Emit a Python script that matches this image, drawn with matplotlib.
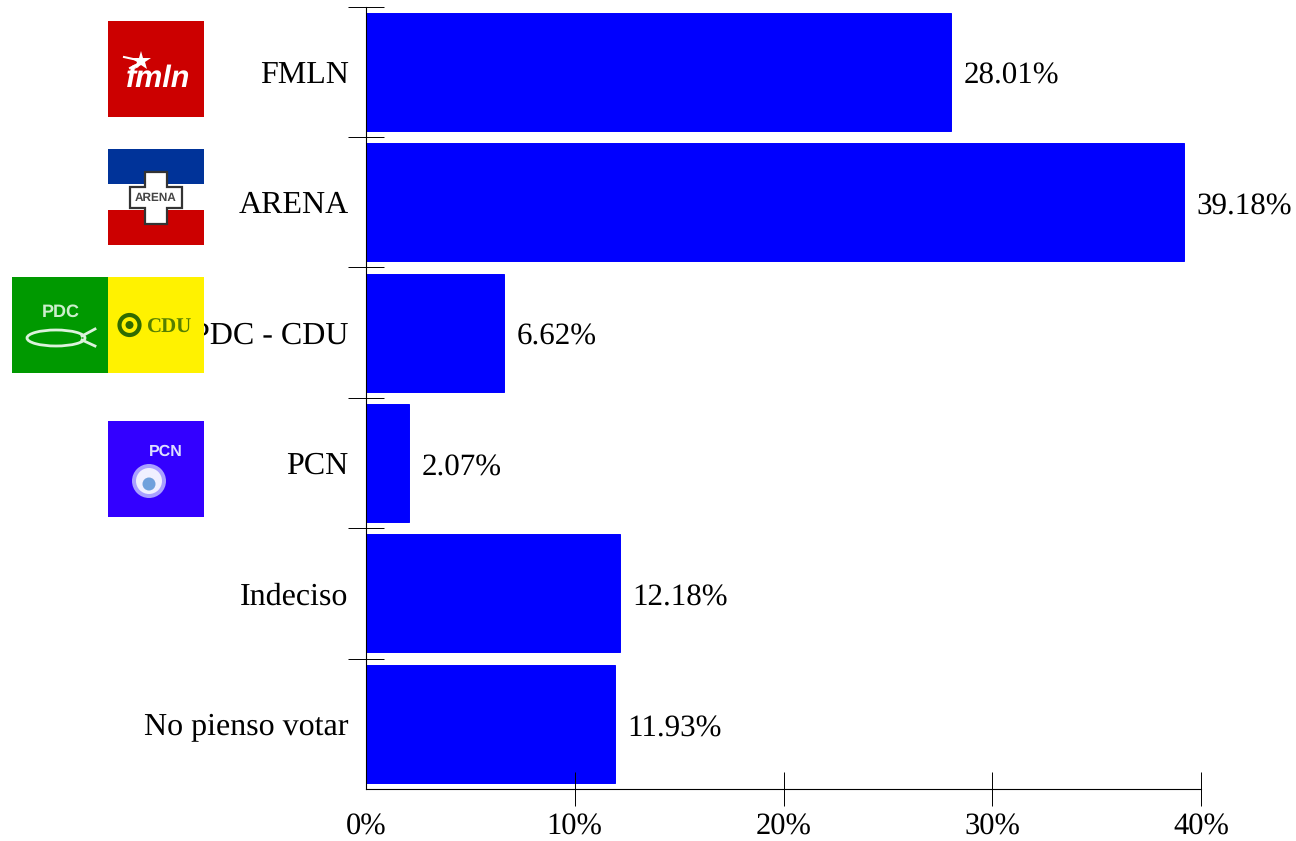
import numpy as np
import matplotlib.pyplot as plt
from matplotlib.patches import Rectangle, Circle, Ellipse, Polygon

# Poll results
parties = ['FMLN', 'ARENA', 'PDC - CDU', 'PCN', 'Indeciso', 'No pienso votar']
values = [28.01, 39.18, 6.62, 2.07, 12.18, 11.93]
value_labels = ['28.01%', '39.18%', '6.62%', '2.07%', '12.18%', '11.93%']
x_ticks = [0, 10, 20, 30, 40]
x_tick_labels = ['0%', '10%', '20%', '30%', '40%']

plt.rcParams['font.family'] = ['Liberation Serif', 'DejaVu Serif']
plt.rcParams['text.hinting'] = 'no_hinting'
W, H = 1296, 841

fig = plt.figure(figsize=(W / 100, H / 100), dpi=100, facecolor='white')
ax = fig.add_axes([366.0 / W, 1 - 789.0 / H, 835.0 / W, 782.5 / H])

y = np.arange(len(parties)) + 0.5
ax.barh(y, values, height=0.905, color='#0000FF', edgecolor='#0000FF', linewidth=0.7)
for yi, v, lab in zip(y, values, value_labels):
    ax.annotate(lab, (v, yi), xytext=(9, -3.5), textcoords='offset points',
                va='center', ha='left', fontsize=22.3, color='black')

ax.set_xlim(0, 40)
ax.set_ylim(len(parties), 0)
ax.spines['top'].set_visible(False)
ax.spines['right'].set_visible(False)
ax.spines['left'].set_linewidth(0.8)
ax.spines['bottom'].set_linewidth(0.8)

# major ticks cross the axis, labels sit on minor ticks at the bar centres
ax.set_yticks(np.arange(len(parties)))
ax.set_yticklabels([])
ax.set_yticks(y, minor=True)
ax.set_yticklabels(parties, minor=True, fontsize=23)
ax.tick_params(axis='y', which='major', direction='inout', length=25.5, width=0.7)
ax.tick_params(axis='y', which='minor', length=0, pad=12.5)

ax.set_xticks(x_ticks)
ax.set_xticklabels(x_tick_labels, fontsize=22)
ax.tick_params(axis='x', direction='inout', length=25, width=0.7, pad=5)
ax.xaxis.get_major_ticks()[0].tick1line.set_visible(False)

# Party logos, in image pixels on a see-through overlay
ov = fig.add_axes([0, 0, 1, 1], facecolor='none')
ov.set_xlim(0, W)
ov.set_ylim(H, 0)
ov.axis('off')


def square(x0, y0, color, w=96, h=96):
    ov.add_patch(Rectangle((x0, y0), w, h, facecolor=color, linewidth=0))


# FMLN
square(108, 21, '#CC0000')
ov.plot([141], [61], marker='*', markersize=15, color='white', markeredgewidth=0)
ov.plot([124, 142], [57, 61], color='white', linewidth=1.5)
ov.plot([130, 142], [68, 62], color='white', linewidth=1.5)
ov.text(158, 79, 'fmln', color='white', fontsize=22, style='italic', weight='bold',
        family='Liberation Sans', ha='center', va='center')

# ARENA
square(108, 149, '#CC0000')
square(108, 149, '#003399', h=35)
square(108, 184, 'white', h=26)
cross = [(145, 172), (167, 172), (167, 187), (182, 187), (182, 208), (167, 208),
         (167, 224), (145, 224), (145, 208), (130, 208), (130, 187), (145, 187)]
ov.add_patch(Polygon(cross, closed=True, facecolor='white', edgecolor='#333333', linewidth=1.6))
ov.text(156, 197.5, 'ARENA', color='#444444', fontsize=8.5, weight='bold', family='Liberation Sans',
        ha='center', va='center')

# PDC - CDU
square(12, 277, '#009900')
square(108, 277, '#FFF200')
ov.text(61, 312, 'PDC', color='#CCEECC', fontsize=13, weight='bold', family='Liberation Sans',
        ha='center', va='center')
ov.add_patch(Ellipse((56, 338), 58, 16, facecolor='none', edgecolor='#DDF2DD', linewidth=2))
ov.plot([82, 95], [336, 329], color='#DDF2DD', linewidth=2)
ov.plot([82, 95], [340, 346], color='#DDF2DD', linewidth=2)
ov.add_patch(Circle((129.5, 325), 10, facecolor='none', edgecolor='#2F6B00', linewidth=3))
ov.add_patch(Circle((129.5, 325), 4, facecolor='#2F6B00', linewidth=0))
ov.text(169.5, 327.5, 'CDU', color='#557F00', fontsize=15, weight='bold',
        ha='center', va='center')

# PCN
square(108, 421, '#3300FF')
ov.text(166, 452, 'PCN', color='#DDDDFF', fontsize=11.5, weight='bold', family='Liberation Sans',
        ha='center', va='center')
ov.add_patch(Circle((149, 481), 17, facecolor='#A9A0FF', linewidth=0))
ov.add_patch(Circle((149, 481), 13, facecolor='#F0F0FF', linewidth=0))
ov.add_patch(Circle((149, 484), 6.5, facecolor='#6FA0DC', linewidth=0))

fig.savefig('out.png', dpi=100, facecolor='white')
